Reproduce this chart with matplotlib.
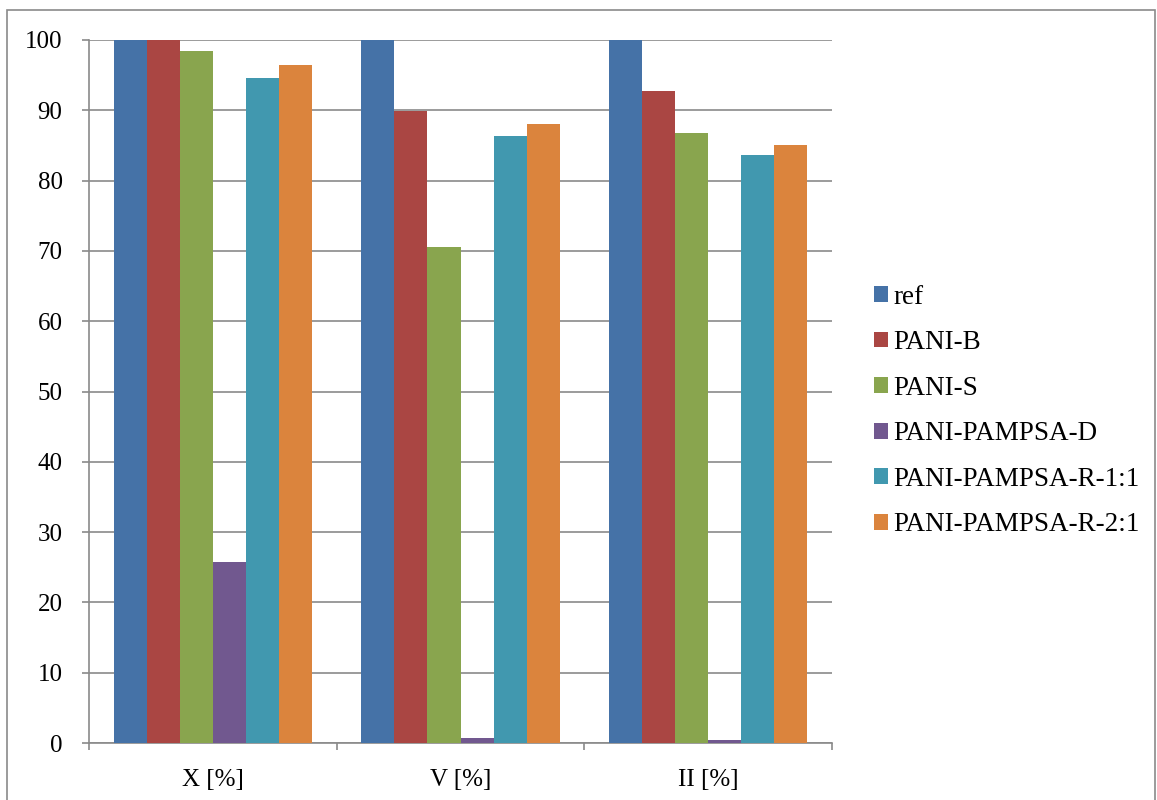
import matplotlib.pyplot as plt
import numpy as np
from matplotlib.patches import Rectangle

plt.rcParams['font.family'] = ['Liberation Serif', 'DejaVu Serif']

categories = ['X [%]', 'V [%]', 'II [%]']
series = ['ref', 'PANI-B', 'PANI-S', 'PANI-PAMPSA-D', 'PANI-PAMPSA-R-1:1', 'PANI-PAMPSA-R-2:1']
ref = [100, 100, 100]
pani_b = [100, 89.9, 92.8]
pani_s = [98.5, 70.5, 86.8]
pampsa_d = [25.8, 0.7, 0.4]
pampsa_r11 = [94.6, 86.3, 83.7]
pampsa_r21 = [96.5, 88.1, 85.0]
values = [ref, pani_b, pani_s, pampsa_d, pampsa_r11, pampsa_r21]
colors = ['#4572A7', '#AA4643', '#89A54E', '#71588F', '#4198AF', '#DB843D']

grid_col = '#8a8a8a'

fig = plt.figure(figsize=(11.57, 8), dpi=100)
ax = fig.add_axes([89 / 1157, 1 - 743 / 800, (832 - 89) / 1157, (743 - 40) / 800])

x = np.arange(len(categories))
w = 1 / 7.5
for i, (name, vals) in enumerate(zip(series, values)):
    ax.bar(x + (i - 2.5) * w, vals, width=w, color=colors[i], label=name, zorder=3)

ax.set_xlim(-0.5, 2.5)
ax.set_ylim(0, 100)
ax.set_yticks(range(0, 101, 10))
ax.yaxis.grid(True, color=grid_col, linewidth=1.2)
ax.set_axisbelow(True)

# category separators as major ticks, names on minor ticks
ax.set_xticks([-0.5, 0.5, 1.5, 2.5])
ax.set_xticklabels([])
ax.set_xticks(x, minor=True)
ax.set_xticklabels(categories, minor=True)
ax.tick_params(axis='x', which='major', length=5, width=1.2, color=grid_col)
ax.tick_params(axis='x', which='minor', length=0, pad=19, labelsize=18)
ax.tick_params(axis='y', length=5, width=1.2, color=grid_col, pad=14, labelsize=18)

for s in ['top', 'right']:
    ax.spines[s].set_visible(False)
for s in ['left', 'bottom']:
    ax.spines[s].set_color(grid_col)
    ax.spines[s].set_linewidth(1.2)

leg = ax.legend(loc='center left', bbox_to_anchor=(874 / 1157, 1 - 411 / 800),
                bbox_transform=fig.transFigure, frameon=False, fontsize=19.5,
                handlelength=0.52, handleheight=0.52, handletextpad=0.18,
                labelspacing=0.76, borderaxespad=0, borderpad=0)

# chart frame
fig.patches.append(Rectangle((7 / 1157, -0.05), 1148 / 1157, 1.05 - 10 / 800,
                             transform=fig.transFigure, fill=False,
                             edgecolor=grid_col, linewidth=1.2))

fig.savefig('out.png', dpi=100)
